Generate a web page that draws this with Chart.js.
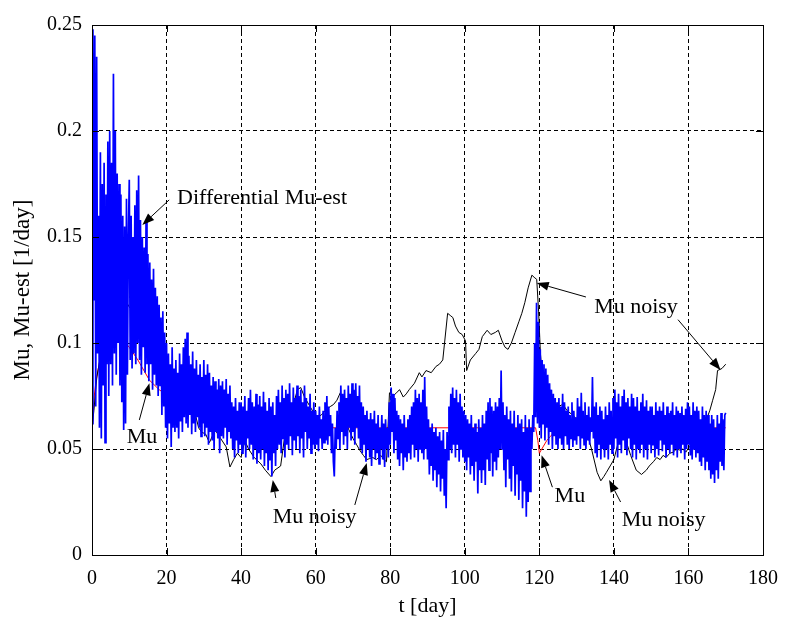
<!DOCTYPE html>
<html>
<head>
<meta charset="utf-8">
<title>Mu, Mu-est</title>
<script src="https://cdn.jsdelivr.net/npm/chart.js@4.4.1/dist/chart.umd.min.js"></script>
<style>
    html, body { margin: 0; padding: 0; background: #ffffff; }
    canvas { display: block; }
</style>
</head>
<body>
<canvas id="muChart" width="790" height="619"></canvas>
<script>
// Ticks
const X_TICKS = [0, 20, 40, 60, 80, 100, 120, 140, 160, 180];
const X_TICK_LABELS = ['0', '20', '40', '60', '80', '100', '120', '140', '160', '180'];
const Y_TICKS = [0, 0.05, 0.1, 0.15, 0.2, 0.25];
const Y_TICK_LABELS = ['0', '0.05', '0.1', '0.15', '0.2', '0.25'];

// Differential Mu-est, one value every quarter day starting at t = 0 (10 values per row = 2.5 days)
const MU_EST_STEP = 0.25;
const MU_EST = [
    0.062, 0.248, 0.120, 0.245, 0.070, 0.235, 0.095, 0.160, 0.060, 0.190,
    0.055, 0.175, 0.080, 0.185, 0.053, 0.170, 0.090, 0.195, 0.075, 0.200,
    0.090, 0.185, 0.080, 0.227, 0.095, 0.200, 0.085, 0.180, 0.100, 0.175,
    0.080, 0.170, 0.072, 0.160, 0.059, 0.155, 0.062, 0.168, 0.085, 0.150,
    0.177, 0.092, 0.160, 0.088, 0.150, 0.095, 0.165, 0.090, 0.172, 0.100,
    0.179, 0.092, 0.158, 0.085, 0.150, 0.098, 0.145, 0.086, 0.158, 0.090,
    0.142, 0.082, 0.138, 0.090, 0.130, 0.078, 0.135, 0.085, 0.126, 0.080,
    0.122, 0.075, 0.118, 0.080, 0.112, 0.066, 0.115, 0.070, 0.105, 0.060,
    0.100, 0.055, 0.095, 0.062, 0.090, 0.051, 0.098, 0.060, 0.088, 0.058,
    0.092, 0.060, 0.086, 0.055, 0.095, 0.063, 0.090, 0.058, 0.098, 0.065,
    0.102, 0.062, 0.105, 0.060, 0.094, 0.066, 0.090, 0.057, 0.096, 0.062,
    0.088, 0.058, 0.092, 0.065, 0.085, 0.060, 0.090, 0.056, 0.084, 0.062,
    0.092, 0.056, 0.085, 0.060, 0.090, 0.052, 0.086, 0.058, 0.080, 0.054,
    0.084, 0.050, 0.082, 0.058, 0.078, 0.055, 0.083, 0.048, 0.080, 0.056,
    0.082, 0.055, 0.078, 0.060, 0.083, 0.052, 0.076, 0.058, 0.080, 0.055,
    0.072, 0.050, 0.070, 0.046, 0.074, 0.054, 0.068, 0.048, 0.072, 0.052,
    0.072, 0.048, 0.070, 0.052, 0.075, 0.046, 0.068, 0.055, 0.074, 0.050,
    0.078, 0.052, 0.072, 0.045, 0.070, 0.050, 0.076, 0.043, 0.071, 0.048,
    0.075, 0.045, 0.070, 0.050, 0.077, 0.042, 0.072, 0.048, 0.068, 0.040,
    0.074, 0.045, 0.070, 0.037, 0.072, 0.048, 0.066, 0.042, 0.075, 0.050,
    0.078, 0.052, 0.072, 0.048, 0.080, 0.055, 0.074, 0.046, 0.078, 0.052,
    0.076, 0.050, 0.081, 0.056, 0.072, 0.047, 0.079, 0.054, 0.074, 0.050,
    0.080, 0.056, 0.075, 0.048, 0.078, 0.055, 0.072, 0.046, 0.080, 0.058,
    0.074, 0.050, 0.070, 0.055, 0.076, 0.048, 0.068, 0.052, 0.072, 0.050,
    0.068, 0.052, 0.066, 0.049, 0.070, 0.055, 0.064, 0.050, 0.068, 0.053,
    0.072, 0.054, 0.075, 0.052, 0.070, 0.056, 0.066, 0.048, 0.062, 0.044,
    0.037, 0.060, 0.050, 0.068, 0.055, 0.072, 0.050, 0.080, 0.058, 0.076,
    0.052, 0.078, 0.056, 0.074, 0.050, 0.080, 0.060, 0.076, 0.054, 0.081,
    0.058, 0.078, 0.052, 0.081, 0.060, 0.075, 0.055, 0.080, 0.050, 0.072,
    0.048, 0.070, 0.052, 0.066, 0.044, 0.068, 0.050, 0.064, 0.046, 0.067,
    0.042, 0.064, 0.050, 0.068, 0.045, 0.062, 0.048, 0.066, 0.043, 0.060,
    0.050, 0.066, 0.045, 0.062, 0.0415, 0.064, 0.050, 0.060, 0.046, 0.072,
    0.052, 0.079, 0.058, 0.076, 0.048, 0.074, 0.054, 0.068, 0.045, 0.066,
    0.042, 0.064, 0.048, 0.062, 0.040, 0.066, 0.046, 0.060, 0.044, 0.064,
    0.048, 0.066, 0.045, 0.070, 0.052, 0.072, 0.046, 0.078, 0.050, 0.074,
    0.044, 0.076, 0.050, 0.072, 0.048, 0.078, 0.045, 0.084, 0.050, 0.070,
    0.045, 0.064, 0.038, 0.060, 0.042, 0.062, 0.035, 0.058, 0.040, 0.060,
    0.032, 0.056, 0.038, 0.058, 0.030, 0.054, 0.036, 0.059, 0.028, 0.050,
    0.022, 0.058, 0.045, 0.070, 0.050, 0.076, 0.048, 0.079, 0.052, 0.074,
    0.046, 0.078, 0.052, 0.072, 0.044, 0.076, 0.050, 0.070, 0.046, 0.068,
    0.044, 0.066, 0.040, 0.064, 0.046, 0.062, 0.038, 0.066, 0.042, 0.060,
    0.035, 0.062, 0.044, 0.058, 0.029, 0.064, 0.040, 0.060, 0.034, 0.066,
    0.040, 0.062, 0.033, 0.068, 0.045, 0.072, 0.040, 0.074, 0.048, 0.070,
    0.037, 0.068, 0.044, 0.072, 0.040, 0.070, 0.046, 0.074, 0.050, 0.087,
    0.050, 0.072, 0.040, 0.066, 0.032, 0.070, 0.045, 0.064, 0.036, 0.068,
    0.030, 0.062, 0.042, 0.068, 0.028, 0.060, 0.038, 0.066, 0.026, 0.062,
    0.035, 0.064, 0.022, 0.058, 0.030, 0.066, 0.018, 0.060, 0.025, 0.064,
    0.030, 0.060, 0.050, 0.066, 0.058, 0.100, 0.065, 0.119, 0.062, 0.110,
    0.060, 0.097, 0.055, 0.092, 0.062, 0.090, 0.054, 0.088, 0.060, 0.085,
    0.052, 0.081, 0.058, 0.078, 0.050, 0.076, 0.056, 0.074, 0.052, 0.072,
    0.050, 0.074, 0.055, 0.070, 0.052, 0.076, 0.050, 0.072, 0.056, 0.068,
    0.052, 0.070, 0.050, 0.066, 0.055, 0.072, 0.051, 0.068, 0.054, 0.065,
    0.052, 0.074, 0.056, 0.070, 0.050, 0.0765, 0.055, 0.068, 0.052, 0.072,
    0.050, 0.066, 0.054, 0.070, 0.052, 0.065, 0.058, 0.084, 0.055, 0.070,
    0.048, 0.072, 0.046, 0.066, 0.052, 0.070, 0.045, 0.068, 0.050, 0.064,
    0.046, 0.070, 0.050, 0.066, 0.045, 0.072, 0.052, 0.068, 0.048, 0.074,
    0.050, 0.078, 0.055, 0.072, 0.046, 0.076, 0.052, 0.070, 0.048, 0.075,
    0.054, 0.078, 0.050, 0.072, 0.047, 0.074, 0.055, 0.070, 0.050, 0.076,
    0.046, 0.074, 0.052, 0.070, 0.045, 0.0745, 0.050, 0.068, 0.048, 0.072,
    0.052, 0.076, 0.046, 0.070, 0.050, 0.073, 0.045, 0.068, 0.052, 0.070,
    0.048, 0.070, 0.052, 0.066, 0.046, 0.072, 0.050, 0.068, 0.047, 0.070,
    0.054, 0.068, 0.049, 0.072, 0.052, 0.066, 0.046, 0.070, 0.050, 0.067,
    0.048, 0.068, 0.052, 0.072, 0.047, 0.066, 0.050, 0.070, 0.046, 0.068,
    0.050, 0.067, 0.048, 0.070, 0.052, 0.066, 0.045, 0.069, 0.050, 0.072,
    0.052, 0.070, 0.047, 0.066, 0.045, 0.072, 0.050, 0.068, 0.046, 0.070,
    0.048, 0.068, 0.044, 0.064, 0.042, 0.070, 0.046, 0.066, 0.040, 0.068,
    0.044, 0.066, 0.040, 0.062, 0.036, 0.066, 0.038, 0.064, 0.034, 0.060,
    0.040, 0.066, 0.036, 0.062, 0.044, 0.067, 0.042, 0.064, 0.040, 0.066,
    0.067
];

// Mu noisy, [t, value]
const MU_NOISY = [
    [0, 0.060], [0.5, 0.068], [1, 0.078], [1.3, 0.084], [2, 0.091], [3, 0.104], [4, 0.114],
    [5, 0.122], [5.6, 0.127], [6.3, 0.126], [7, 0.125], [8, 0.122], [9, 0.120], [10, 0.117],
    [11, 0.115], [12, 0.112], [13, 0.108], [14, 0.105], [15, 0.101], [16, 0.098], [17.5, 0.095],
    [18.5, 0.088], [20, 0.076], [21, 0.074], [22, 0.079], [23, 0.081], [24, 0.078], [25, 0.076],
    [26, 0.073], [27.5, 0.068], [28.6, 0.060], [29.4, 0.058], [30.5, 0.057], [31.5, 0.053],
    [33, 0.059], [34.5, 0.055], [36, 0.051], [37, 0.0415], [38, 0.045], [39, 0.048], [40, 0.046],
    [41, 0.054], [42, 0.050], [43.5, 0.046], [45.3, 0.043], [46.5, 0.040], [48, 0.037],
    [49, 0.040], [50.6, 0.042], [51.7, 0.056], [52.5, 0.059], [53.3, 0.068], [54.2, 0.072],
    [55.1, 0.078], [56, 0.079], [57, 0.0745], [58.5, 0.070], [59.5, 0.067], [60.4, 0.065],
    [61.5, 0.066], [62.5, 0.068], [63.9, 0.070], [64.8, 0.071], [65.7, 0.073], [66.6, 0.0765],
    [67.5, 0.070], [68.4, 0.061], [69.2, 0.058], [70, 0.055], [71, 0.052], [71.8, 0.0495],
    [72.8, 0.047], [73.7, 0.045], [74.5, 0.0455], [75.3, 0.046], [76.3, 0.045], [77.5, 0.047],
    [78.3, 0.045], [79, 0.044], [79.8, 0.0765], [80.7, 0.075], [81.7, 0.0765], [82.5, 0.078],
    [83.5, 0.0745], [84.3, 0.076], [85.1, 0.078], [86.5, 0.081], [87.8, 0.086], [88.5, 0.084],
    [89.6, 0.087], [91, 0.086], [92.3, 0.089], [93.2, 0.090], [94.1, 0.092], [95.4, 0.114],
    [96.1, 0.113], [96.8, 0.112], [97.5, 0.108], [98.4, 0.105], [99.3, 0.104], [100.2, 0.101],
    [100.5, 0.087], [101.5, 0.092], [102.9, 0.095], [103.8, 0.097], [104.7, 0.103], [106, 0.106],
    [107, 0.104], [108.2, 0.105], [109, 0.106], [110, 0.101], [110.8, 0.098], [111.6, 0.097],
    [112.5, 0.100], [113.5, 0.105], [114.5, 0.110], [115.3, 0.114], [116.1, 0.119], [117, 0.126],
    [118, 0.132], [118.6, 0.131], [119.3, 0.130], [119.8, 0.115], [120.3, 0.095], [121, 0.080],
    [122, 0.075], [123.5, 0.072], [125, 0.070], [126.3, 0.071], [127.5, 0.068], [129, 0.066],
    [130.5, 0.063], [132, 0.060], [132.8, 0.0575], [134, 0.050], [135.5, 0.039], [136.5, 0.035],
    [137.3, 0.037], [138, 0.039], [139, 0.042], [140, 0.045], [141, 0.052], [142.6, 0.0575],
    [143.4, 0.053], [144.5, 0.047], [146, 0.040], [147.4, 0.038], [148.7, 0.040], [149.5, 0.042],
    [150.6, 0.044], [151.5, 0.046], [152.4, 0.045], [153.2, 0.047], [154, 0.046], [155, 0.048],
    [155.9, 0.0485], [156.8, 0.050], [157.7, 0.0495], [158.5, 0.050], [159.3, 0.0485],
    [160.2, 0.051], [161, 0.052], [162.5, 0.056], [164, 0.060], [165.7, 0.068], [166.5, 0.073],
    [167.3, 0.078], [167.8, 0.087], [169, 0.088], [170, 0.090]
];

// Mu (true), [t, value]
const MU = [
    [0, 0.058], [0.3, 0.066], [0.6, 0.075], [1, 0.081], [2, 0.091], [3, 0.098], [4, 0.102],
    [5, 0.105], [6, 0.1057], [7, 0.105], [8, 0.102], [9, 0.100], [10, 0.098], [12.3, 0.092],
    [15.4, 0.0825], [18, 0.078], [20, 0.0755], [23, 0.072], [26, 0.070], [28.6, 0.068],
    [32, 0.066], [36, 0.0645], [40, 0.063], [45, 0.062], [50, 0.061], [55, 0.0605], [60, 0.060],
    [119, 0.060], [119.6, 0.054], [120, 0.048], [121, 0.051], [122, 0.054], [123, 0.056],
    [124, 0.058], [125, 0.060], [139.7, 0.060], [140, 0.073], [140.7, 0.069], [141.5, 0.065],
    [142.5, 0.062], [143.5, 0.060], [170, 0.060]
];

// Text labels with arrows (data coordinates)
const LABELS = [
    { text: 'Differential Mu-est', at: [22.8, 0.1684], arrows: [[[20.7, 0.1675], [13.5, 0.1557]]] },
    { text: 'Mu', at: [9.3, 0.0557], arrows: [[[12.7, 0.0637], [15.4, 0.081]]] },
    { text: 'Mu noisy', at: [48.5, 0.0179], arrows: [[[49.3, 0.0269], [48.5, 0.0354]], [[70.5, 0.0236], [73.7, 0.0434]]] },
    { text: 'Mu noisy', at: [134.7, 0.117], arrows: [[[132.5, 0.1217], [119.3, 0.1283]], [[157.2, 0.111], [168.6, 0.0873]]] },
    { text: 'Mu', at: [124.1, 0.0278], arrows: [[[123.5, 0.032], [120.6, 0.047]]] },
    { text: 'Mu noisy', at: [142.1, 0.0165], arrows: [[[141.8, 0.025], [138.7, 0.0354]]] }
];

const SERIF = '"Liberation Serif", "Times New Roman", serif';
const TICK_LEN = 7;

// box around the axes plus inward tick marks on all four sides
const frameplugin = {
    id: 'frameplugin',
    afterDatasetsDraw(chart) {
        const { ctx, chartArea: a, scales: { x, y } } = chart;
        ctx.save();
        ctx.strokeStyle = '#000';
        ctx.lineWidth = 1;
        ctx.setLineDash([]);
        ctx.beginPath();
        X_TICKS.forEach(v => {
            const px = Math.round(x.getPixelForValue(v)) + 0.5;
            ctx.moveTo(px, a.bottom);
            ctx.lineTo(px, a.bottom - TICK_LEN);
            ctx.moveTo(px, a.top);
            ctx.lineTo(px, a.top + TICK_LEN);
        });
        Y_TICKS.forEach(v => {
            const py = Math.round(y.getPixelForValue(v)) + 0.5;
            ctx.moveTo(a.left, py);
            ctx.lineTo(a.left + TICK_LEN, py);
            ctx.moveTo(a.right, py);
            ctx.lineTo(a.right - TICK_LEN, py);
        });
        ctx.stroke();
        ctx.strokeRect(Math.round(a.left) + 0.5, Math.round(a.top) + 0.5,
            Math.round(a.right - a.left), Math.round(a.bottom - a.top));
        ctx.restore();
    }
};

const labelplugin = {
    id: 'labelplugin',
    afterDraw(chart) {
        const { ctx, scales: { x, y } } = chart;
        ctx.save();
        ctx.strokeStyle = '#000';
        ctx.fillStyle = '#000';
        ctx.lineWidth = 1;
        LABELS.forEach(lab => {
            lab.arrows.forEach(([from, to]) => {
                const x1 = x.getPixelForValue(from[0]), y1 = y.getPixelForValue(from[1]);
                const x2 = x.getPixelForValue(to[0]), y2 = y.getPixelForValue(to[1]);
                const ang = Math.atan2(y2 - y1, x2 - x1);
                const len = 12, half = 4.5;
                const bx = x2 - len * Math.cos(ang), by = y2 - len * Math.sin(ang);
                ctx.beginPath();
                ctx.moveTo(x1, y1);
                ctx.lineTo(bx, by);
                ctx.stroke();
                ctx.beginPath();
                ctx.moveTo(x2, y2);
                ctx.lineTo(bx + half * Math.sin(ang), by - half * Math.cos(ang));
                ctx.lineTo(bx - half * Math.sin(ang), by + half * Math.cos(ang));
                ctx.closePath();
                ctx.fill();
            });
            ctx.font = '22px ' + SERIF;
            ctx.textAlign = 'left';
            ctx.textBaseline = 'middle';
            ctx.fillText(lab.text, x.getPixelForValue(lab.at[0]), y.getPixelForValue(lab.at[1]));
        });
        ctx.restore();
    }
};

function buildChart() {
    const ctx = document.getElementById('muChart').getContext('2d');
    const toPoints = rows => rows.map(r => ({ x: r[0], y: r[1] }));
    const estPoints = MU_EST.map((v, i) => ({ x: i * MU_EST_STEP, y: v }));

    return new Chart(ctx, {
        type: 'line',
        data: {
            datasets: [
                {
                    label: 'Differential Mu-est',
                    data: estPoints,
                    borderColor: '#0000ff',
                    borderWidth: 1.7,
                    order: 0
                },
                {
                    label: 'Mu noisy',
                    data: toPoints(MU_NOISY),
                    borderColor: '#000000',
                    borderWidth: 1,
                    order: 1
                },
                {
                    label: 'Mu',
                    data: toPoints(MU),
                    borderColor: '#ff0000',
                    borderWidth: 1,
                    order: 2
                }
            ]
        },
        options: {
            responsive: false,
            animation: false,
            events: [],
            elements: {
                point: { radius: 0 },
                line: { tension: 0, fill: false }
            },
            layout: {
                padding: { left: 0, right: 19, top: 25, bottom: 0 }
            },
            plugins: {
                legend: { display: false },
                tooltip: { enabled: false }
            },
            scales: {
                x: {
                    type: 'linear',
                    min: 0,
                    max: 180,
                    afterBuildTicks: scale => { scale.ticks = X_TICKS.map(v => ({ value: v })); },
                    afterFit: scale => { scale.height = 64; },
                    ticks: {
                        color: '#000',
                        padding: 12,
                        maxRotation: 0,
                        font: { family: SERIF, size: 20 },
                        callback: (value, index) => X_TICK_LABELS[index]
                    },
                    grid: { color: '#000', lineWidth: 1, drawTicks: false },
                    border: { display: false, dash: [4, 3] },
                    title: {
                        display: true,
                        text: 't [day]',
                        color: '#000',
                        font: { family: SERIF, size: 22, lineHeight: 1.2 },
                        padding: { top: 0, bottom: 0 }
                    }
                },
                y: {
                    type: 'linear',
                    min: 0,
                    max: 0.25,
                    afterBuildTicks: scale => { scale.ticks = Y_TICKS.map(v => ({ value: v })); },
                    afterFit: scale => { scale.width = 92; },
                    ticks: {
                        color: '#000',
                        padding: 10,
                        font: { family: SERIF, size: 20 },
                        callback: (value, index) => Y_TICK_LABELS[index]
                    },
                    grid: { color: '#000', lineWidth: 1, drawTicks: false },
                    border: { display: false, dash: [4, 3] },
                    title: {
                        display: true,
                        text: 'Mu, Mu-est [1/day]',
                        color: '#000',
                        font: { family: SERIF, size: 23, lineHeight: 1.2 },
                        padding: { top: 9, bottom: 0 }
                    }
                }
            }
        },
        plugins: [frameplugin, labelplugin]
    });
}

document.addEventListener('DOMContentLoaded', () => {
    window.muChart = buildChart();
});
</script>
</body>
</html>
